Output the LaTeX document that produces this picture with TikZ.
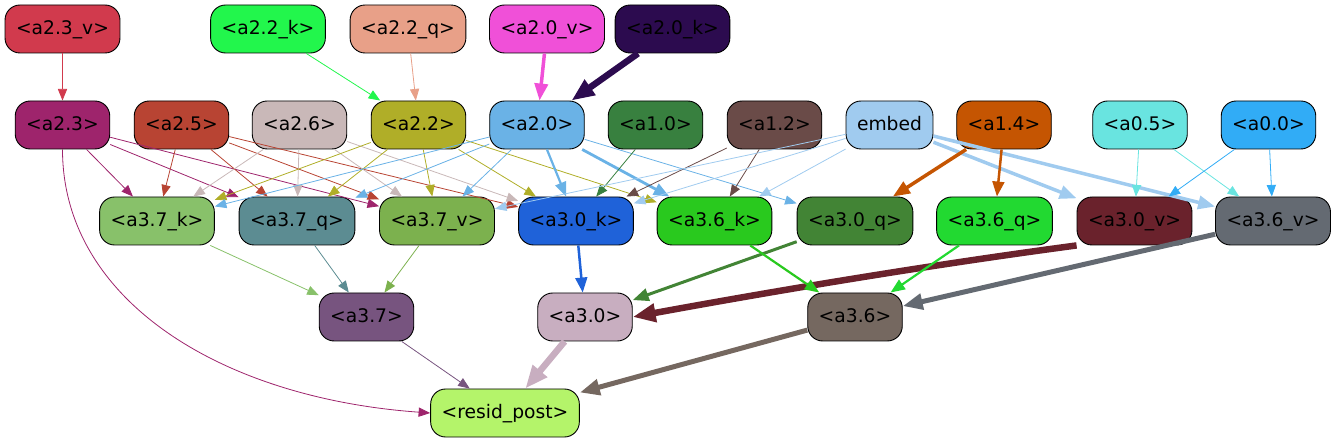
\documentclass[tikz,border=0pt]{standalone}
\usepackage{fontspec}
\setmainfont{DejaVu Sans}
\usepackage{xcolor}
\usepackage{tikz}
\usetikzlibrary{shapes,arrows.meta,positioning}

\definecolor{c23v}{HTML}{D13A4D}
\definecolor{c22k}{HTML}{22F64C}
\definecolor{c22q}{HTML}{E8A088}
\definecolor{c20v}{HTML}{F050D8}
\definecolor{c20k}{HTML}{2C0B4F}
\definecolor{c23}{HTML}{9E246C}
\definecolor{c25}{HTML}{B84433}
\definecolor{c26}{HTML}{C9B8B8}
\definecolor{c22}{HTML}{B0AE28}
\definecolor{c20}{HTML}{6AB2E6}
\definecolor{c10}{HTML}{38803F}
\definecolor{c12}{HTML}{6A4B48}
\definecolor{cemb}{HTML}{A0CBEF}
\definecolor{c14}{HTML}{C55502}
\definecolor{c05}{HTML}{69E4E0}
\definecolor{c00}{HTML}{31ACF6}
\definecolor{c37k}{HTML}{88C16A}
\definecolor{c37q}{HTML}{5C8C92}
\definecolor{c37v}{HTML}{7CB14E}
\definecolor{c30k}{HTML}{1F62D9}
\definecolor{c36k}{HTML}{29C91E}
\definecolor{c30q}{HTML}{428435}
\definecolor{c36q}{HTML}{22D931}
\definecolor{c30v}{HTML}{6A222C}
\definecolor{c36v}{HTML}{646A72}
\definecolor{c37}{HTML}{77547F}
\definecolor{c30}{HTML}{C8AEC0}
\definecolor{c36}{HTML}{756860}
\definecolor{cres}{HTML}{B4F46A}

\begin{document}
\begin{tikzpicture}[x=1pt, y=-1pt, font=\fontsize{18.7}{22}\selectfont]
    % Define styles
    \tikzstyle{tensor} = [rectangle, rounded corners=15pt, draw, line width=0.9pt, minimum height=48pt, inner xsep=11pt, text height=13.5pt, text depth=3pt, text=black]
    \tikzstyle{arrow} = [line width=0.8pt, ->, >={Triangle[length=10pt 2, width=8pt 1.5]}]

    \useasboundingbox (0,0) rectangle (1336,443);

    % Top inputs
    \node [tensor, fill=c23v] (a23v) at (62.5,29) {<a2.3\_v>};
    \node [tensor, fill=c22k] (a22k) at (268,29) {<a2.2\_k>};
    \node [tensor, fill=c22q] (a22q) at (408,29) {<a2.2\_q>};
    \node [tensor, fill=c20v] (a20v) at (547,29) {<a2.0\_v>};
    \node [tensor, fill=c20k] (a20k) at (672.5,29) {<a2.0\_k>};

    % Second row
    \node [tensor, fill=c23] (a23) at (62.5,125) {<a2.3>};
    \node [tensor, fill=c25] (a25) at (181.5,125) {<a2.5>};
    \node [tensor, fill=c26] (a26) at (299.5,125) {<a2.6>};
    \node [tensor, fill=c22] (a22) at (418.5,125) {<a2.2>};
    \node [tensor, fill=c20] (a20) at (537,125) {<a2.0>};
    \node [tensor, fill=c10] (a10) at (655.5,125) {<a1.0>};
    \node [tensor, fill=c12] (a12) at (774.5,125) {<a1.2>};
    \node [tensor, fill=cemb] (embed) at (889.5,125) {embed};
    \node [tensor, fill=c14] (a14) at (1004,125) {<a1.4>};
    \node [tensor, fill=c05] (a05) at (1140,125) {<a0.5>};
    \node [tensor, fill=c00] (a00) at (1268.5,125) {<a0.0>};

    % Third row
    \node [tensor, fill=c37k] (a37k) at (157,221) {<a3.7\_k>};
    \node [tensor, fill=c37q] (a37q) at (297,221) {<a3.7\_q>};
    \node [tensor, fill=c37v] (a37v) at (437,221) {<a3.7\_v>};
    \node [tensor, fill=c30k] (a30k) at (576,221) {<a3.0\_k>};
    \node [tensor, fill=c36k] (a36k) at (714.5,221) {<a3.6\_k>};
    \node [tensor, fill=c30q] (a30q) at (855,221) {<a3.0\_q>};
    \node [tensor, fill=c36q] (a36q) at (994.5,221) {<a3.6\_q>};
    \node [tensor, fill=c30v] (a30v) at (1134.5,221) {<a3.0\_v>};
    \node [tensor, fill=c36v] (a36v) at (1273,221) {<a3.6\_v>};

    % Fourth row
    \node [tensor, fill=c37] (a37) at (366.5,317) {<a3.7>};
    \node [tensor, fill=c30] (a30) at (585,317) {<a3.0>};
    \node [tensor, fill=c36] (a36) at (855,317) {<a3.6>};

    % Output
    \node [tensor, fill=cres] (resid) at (505,413) {<resid\_post>};

    % Arrows into second row
    \draw [arrow, c23v] (a23v) -- (a23);
    \draw [arrow, c22k] (a22k) -- (a22);
    \draw [arrow, c22q] (a22q) -- (a22);
    \draw [arrow, c20v, line width=3.5pt] (a20v) -- (a20);
    \draw [arrow, c20k, line width=6.5pt] (a20k) -- (a20);

    % Arrows into third row
    \draw [arrow, c23] (a23) -- (a37k);
    \draw [arrow, c23] (a23) -- (a37q);
    \draw [arrow, c23] (a23) -- (a37v);
    \draw [arrow, c25] (a25) -- (a37k);
    \draw [arrow, c25] (a25) -- (a37q);
    \draw [arrow, c25] (a25) -- (a37v);
    \draw [arrow, c25] (a25) -- (a30k);
    \draw [arrow, c26] (a26) -- (a37k);
    \draw [arrow, c26] (a26) -- (a37q);
    \draw [arrow, c26] (a26) -- (a37v);
    \draw [arrow, c26] (a26) -- (a30k);
    \draw [arrow, c22] (a22) -- (a37k);
    \draw [arrow, c22] (a22) -- (a37q);
    \draw [arrow, c22] (a22) -- (a37v);
    \draw [arrow, c22] (a22) -- (a30k);
    \draw [arrow, c22] (a22) -- (a36k);
    \draw [arrow, c20] (a20) -- (a37k);
    \draw [arrow, c20] (a20) -- (a37q);
    \draw [arrow, c20] (a20) -- (a37v);
    \draw [arrow, c20, line width=2.2pt] (a20) -- (a30k);
    \draw [arrow, c20, line width=2.8pt] (a20) -- (a36k);
    \draw [arrow, c20] (a20) -- (a30q);
    \draw [arrow, c10] (a10) -- (a30k);
    \draw [arrow, c12] (a12) -- (a30k);
    \draw [arrow, c12] (a12) -- (a36k);
    \draw [arrow, cemb] (embed) -- (a37v);
    \draw [arrow, cemb] (embed) -- (a30k);
    \draw [arrow, cemb] (embed) -- (a36k);
    \draw [arrow, cemb, line width=3.5pt] (embed) -- (a30v);
    \draw [arrow, cemb, line width=3.5pt] (embed) -- (a36v);
    \draw [arrow, c14, line width=3.5pt] (a14) -- (a30q);
    \draw [arrow, c14, line width=2.5pt] (a14) -- (a36q);
    \draw [arrow, c05] (a05) -- (a30v);
    \draw [arrow, c05] (a05) -- (a36v);
    \draw [arrow, c00] (a00) -- (a30v);
    \draw [arrow, c00] (a00) -- (a36v);

    % Arrows into fourth row
    \draw [arrow, c37k] (a37k) -- (a37);
    \draw [arrow, c37q] (a37q) -- (a37);
    \draw [arrow, c37v] (a37v) -- (a37);
    \draw [arrow, c30k, line width=2.5pt] (a30k) -- (a30);
    \draw [arrow, c30q, line width=3pt] (a30q) -- (a30);
    \draw [arrow, c30v, line width=6.5pt] (a30v.south west) .. controls (930,265) and (780,290) .. (a30.east);
    \draw [arrow, c36k, line width=2.2pt] (a36k) -- (a36);
    \draw [arrow, c36q, line width=2.2pt] (a36q) -- (a36);
    \draw [arrow, c36v, line width=5pt] (a36v) -- (a36);

    % Arrows into output
    \draw [arrow, c37] (a37) -- (resid);
    \draw [arrow, c30, line width=6.5pt] (a30) -- (resid);
    \draw [arrow, c36, line width=5pt] (a36) -- (resid);
    \draw [arrow, c23] (a23.south) .. controls +(0,150) and +(-210,-15) .. (resid.west);
\end{tikzpicture}
\end{document}
